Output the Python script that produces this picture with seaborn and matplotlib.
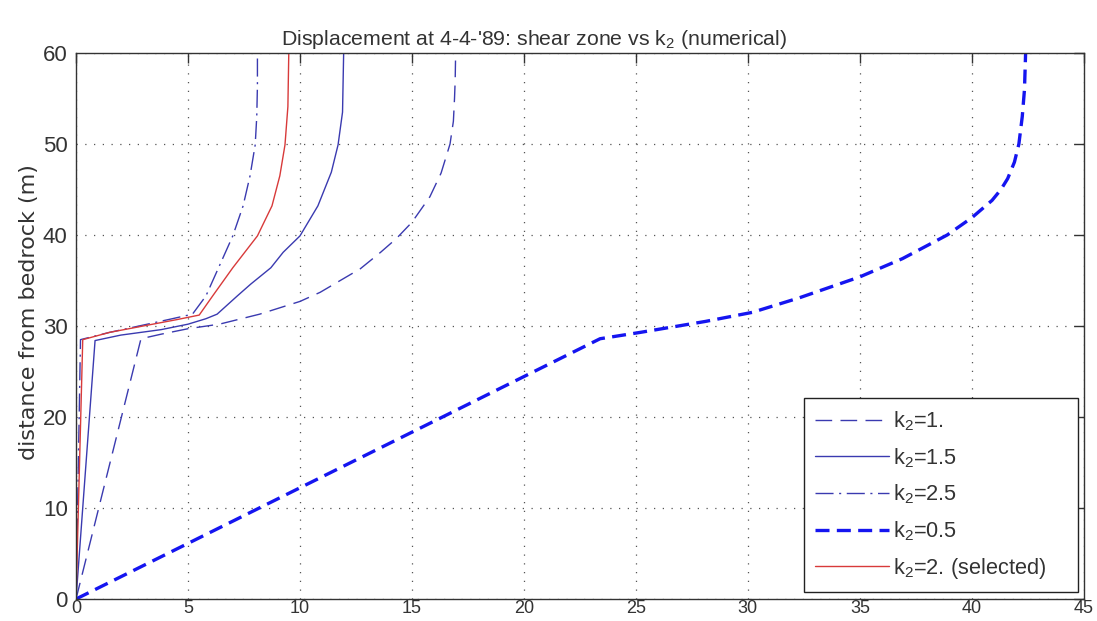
import numpy as np
import pandas as pd
import matplotlib
matplotlib.use("Agg")
import matplotlib.pyplot as plt
import seaborn as sns

# displacement (x, m) vs distance from bedrock (y, m) for each k2 value
depth_k1 = [0, 28.6, 29.1, 29.7, 30.2, 31.3, 32.7, 33.7, 36.3, 38.1, 39.6, 41.4, 44.2, 46.8, 50, 52.5, 55, 57, 60]
disp_k1 = [0, 2.9, 3.8, 5.0, 6.4, 8.2, 10.0, 10.9, 12.7, 13.6, 14.3, 15.0, 15.8, 16.3, 16.7, 16.85, 16.9, 16.93, 16.95]

depth_k15 = [0, 28.4, 29.0, 29.6, 30.2, 30.8, 31.3, 33.3, 34.6, 36.4, 38.1, 39.9, 43.2, 46.9, 49.9, 53.5, 60]
disp_k15 = [0, 0.85, 2.0, 3.8, 5.0, 5.8, 6.3, 7.2, 7.8, 8.7, 9.25, 10.0, 10.8, 11.4, 11.7, 11.9, 11.95]

depth_k25 = [0, 28.5, 29.3, 30.1, 30.8, 31.3, 33.3, 36.6, 39.9, 43.2, 46.5, 49.9, 53.0, 56.4, 60]
disp_k25 = [0, 0.2, 1.5, 3.0, 4.3, 5.2, 5.8, 6.4, 7.0, 7.46, 7.77, 8.0, 8.07, 8.1, 8.1]

depth_k05 = [0, 28.6, 29.3, 30.5, 31.5, 33.1, 35.4, 37.4, 40, 41.9, 43.8, 45.0, 46.2, 48.0, 50, 53, 56, 60]
disp_k05 = [0, 23.4, 25.2, 28.1, 30.2, 32.3, 35.0, 36.9, 38.9, 40.0, 40.9, 41.3, 41.6, 41.9, 42.1, 42.25, 42.35, 42.4]

depth_k2 = [0, 28.5, 29.3, 30.0, 30.7, 31.2, 33.3, 36.4, 39.9, 43.2, 46.5, 49.9, 54.1, 60]
disp_k2 = [0, 0.3, 1.5, 3.0, 4.5, 5.5, 6.1, 7.0, 8.1, 8.75, 9.1, 9.33, 9.46, 9.5]

labels = [r"k$_{2}$=1.", r"k$_{2}$=1.5", r"k$_{2}$=2.5", r"k$_{2}$=0.5", r"k$_{2}$=2. (selected)"]

x_ticks = list(range(0, 46, 5))
y_ticks = list(range(0, 61, 10))

sns.set_style("white")
plt.rcParams["font.family"] = ["Liberation Sans", "DejaVu Sans"]
plt.rcParams["mathtext.default"] = "regular"
plt.rcParams["text.color"] = "#333333"
plt.rcParams["axes.labelcolor"] = "#333333"
plt.rcParams["xtick.color"] = "#333333"
plt.rcParams["ytick.color"] = "#333333"

fig = plt.figure(figsize=(10.97, 6.21), dpi=100)
ax = fig.add_axes([0.0693, 0.0354, 0.988 - 0.0693, 0.9147 - 0.0354])

thin_blue = "#3a3ab0"
series = [
    (disp_k1, depth_k1, labels[0], dict(color=thin_blue, linewidth=1.0, linestyle=(0, (12, 6)))),
    (disp_k15, depth_k15, labels[1], dict(color=thin_blue, linewidth=1.0, linestyle="-")),
    (disp_k25, depth_k25, labels[2], dict(color=thin_blue, linewidth=1.0, linestyle=(0, (13, 4, 1.5, 4)))),
    (disp_k05, depth_k05, labels[3], dict(color="#1515f0", linewidth=2.4, linestyle=(0, (4.2, 2.2)))),
    (disp_k2, depth_k2, labels[4], dict(color="#d83a3a", linewidth=1.0, linestyle="-")),
]

for xs, ys, lab, style in series:
    df = pd.DataFrame({"disp": xs, "depth": ys})
    sns.lineplot(data=df, x="disp", y="depth", sort=False, estimator=None,
                 ax=ax, label=lab, **style)

ax.set_xlim(0, 45)
ax.set_ylim(0, 60)
ax.set_xticks(x_ticks)
ax.set_yticks(y_ticks)
ax.set_xlabel("")
ax.set_ylabel("distance from bedrock (m)", fontsize=16, family=["DejaVu Sans"])
ax.yaxis.set_label_coords(-0.037, 0.525)
ax.set_title("Displacement at 4-4-'89: shear zone vs k$_{2}$ (numerical)",
             fontsize=15.3, pad=6, x=0.455)

ax.grid(True, color="#555555", linestyle=(0, (1, 6)), linewidth=0.9)
ax.tick_params(direction="in", length=7, width=1, top=True, right=True)
ax.tick_params(axis="y", labelsize=16, pad=6)
ax.tick_params(axis="x", labelsize=13, pad=1)
for sp in ax.spines.values():
    sp.set_visible(True)
    sp.set_color("#333333")
    sp.set_linewidth(1.0)

leg = ax.legend(loc="lower left", bbox_to_anchor=(0.722, 0.0128, 0.272, 0.3),
                mode="expand", borderaxespad=0,
                fontsize=15.7, handlelength=3.4, handletextpad=0.2,
                labelspacing=0.6, borderpad=0.5, fancybox=False,
                framealpha=1, edgecolor="#222222")
leg.get_frame().set_linewidth(1.0)

fig.savefig("out.png", dpi=100)
